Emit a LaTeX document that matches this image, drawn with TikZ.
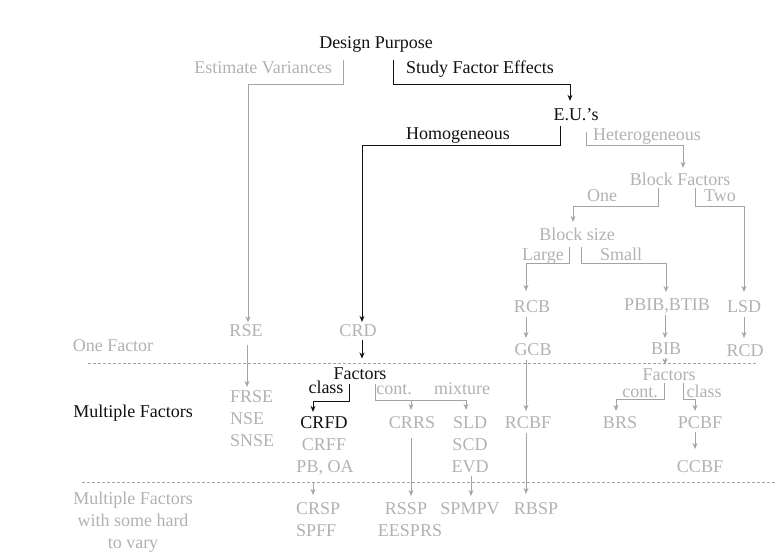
\documentclass[tikz,border=0pt]{standalone}
\usepackage{fontspec}
\setmainfont{Liberation Serif}
\usetikzlibrary{arrows.meta}
\definecolor{gtext}{HTML}{B2B2B2}
\definecolor{gline}{HTML}{A4A4A4}
\definecolor{btext}{HTML}{111111}
\begin{document}
\begin{tikzpicture}[x=1pt,y=-1pt,
  every node/.style={inner sep=0pt,font=\fontsize{18}{22}\selectfont},
  bt/.style={text=btext,anchor=base},
  gt/.style={text=gtext,anchor=base},
  bline/.style={draw=btext,line width=0.9pt},
  gln/.style={draw=gline,line width=0.8pt},
  btip/.style={bline,-{Stealth[length=6pt,width=5pt]}},
  gtip/.style={gln,-{Stealth[length=6pt,width=5pt]}},
  dashline/.style={gln,dash pattern=on 3pt off 2pt}]
\fill[white] (0,0) rectangle (782,555);
\useasboundingbox (0,0) rectangle (782,555);
% nodes
\node[bt] (DP) at (376,48) {Design Purpose};
\node[gt] (EV) at (263,73) {Estimate Variances};
\node[bt] (SFE) at (480,73) {Study Factor Effects};
\node[bt] (EU) at (576,120) {E.U.'s};
\node[bt] (HOM) at (458,139) {Homogeneous};
\node[gt] (HET) at (647,140) {Heterogeneous};
\node[gt] (BF) at (680,185) {Block Factors};
\node[gt] (ONE) at (602,201) {One};
\node[gt] (TWO) at (720,201) {Two};
\node[gt] (BS) at (577,240) {Block size};
\node[gt] (LG) at (543,260) {Large};
\node[gt] (SM) at (621,260) {Small};
\node[gt] (RCB) at (532,312) {RCB};
\node[gt] (PBIB) at (667,310) {PBIB,BTIB};
\node[gt] (LSD) at (744,312) {LSD};
\node[gt] (GCB) at (533,355) {GCB};
\node[gt] (BIB) at (666,354) {BIB};
\node[gt] (RCD) at (745,356) {RCD};
\node[gt] (RSE) at (246,336) {RSE};
\node[gt] (CRD) at (358,336) {CRD};
\node[gt] (OF) at (113,351) {One Factor};
\node[bt] (MF) at (133,417) {Multiple Factors};
\node[bt] (FAC1) at (360,379) {Factors};
\node[bt] (CLS1) at (326,393) {class};
\node[gt] (CONT1) at (394,394) {cont.};
\node[gt] (MIX) at (462,394) {mixture};
\node[gt] (FAC2) at (669,380) {Factors};
\node[gt] (CONT2) at (640,397) {cont.};
\node[gt] (CLS2) at (704,397) {class};
\node[gt,anchor=base west] (FRSE) at (230,402) {FRSE};
\node[gt,anchor=base west] (NSE) at (230,424) {NSE};
\node[gt,anchor=base west] (SNSE) at (230,446) {SNSE};
\node[bt] (CRFD) at (324,428) {CRFD};
\node[gt] (CRFF) at (324,450) {CRFF};
\node[gt] (PBOA) at (325,472) {PB, OA};
\node[gt] (CRRS) at (412,428) {CRRS};
\node[gt] (SLD) at (470,428) {SLD};
\node[gt] (SCD) at (470,450) {SCD};
\node[gt] (EVD) at (470,472) {EVD};
\node[gt] (RCBF) at (528,428) {RCBF};
\node[gt] (BRS) at (620,428) {BRS};
\node[gt] (PCBF) at (700,428) {PCBF};
\node[gt] (CCBF) at (700,472) {CCBF};
\node[gt] (MFH1) at (133,504) {Multiple Factors};
\node[gt] (MFH2) at (133,526) {with some hard};
\node[gt] (MFH3) at (133,548) {to vary};
\node[gt,anchor=base west] (CRSP) at (296,514) {CRSP};
\node[gt,anchor=base west] (SPFF) at (296,536) {SPFF};
\node[gt] (RSSP) at (406,514) {RSSP};
\node[gt] (EES) at (410,536) {EESPRS};
\node[gt] (SPMPV) at (470,514) {SPMPV};
\node[gt] (RBSP) at (536,514) {RBSP};
% dashed separators
\coordinate (d1a) at (88,363); \coordinate (d1b) at (757,363);
\coordinate (d2a) at (82,482); \coordinate (d2b) at (776,482);
\draw[dashline] (d1a) -- (d1b);
\draw[dashline] (d2a) -- (d2b);
% connectors
\draw[gtip,shorten >=1.5pt] (343,60) |- (248,84) -- (248,0 |- RSE.north);
\draw[btip,shorten >=7pt] (393,60) |- (570,84) -- (570,0 |- EU.north);
\draw[btip,shorten >=2pt] (560,126) |- (362,145) -- (362,0 |- CRD.north);
\draw[gtip,shorten >=4.5pt] (586,132) |- (683,145) -- (683,0 |- BF.north);
\draw[gtip,shorten >=5.5pt] (658,188) |- (573,206) -- (573,0 |- BS.north);
\draw[gtip,shorten >=8pt] (695,188) |- (744,206) -- (744,0 |- LSD.north);
\draw[gtip,shorten >=9pt] (569,247) |- (526,263) -- (526,0 |- RCB.north);
\draw[gtip,shorten >=6pt] (581,247) |- (666,263) -- (666,0 |- PBIB.north);
\draw[gtip,shorten <=5pt,shorten >=5pt] (526,0 |- RCB.south) -- (526,0 |- GCB.north);
\draw[gtip,shorten <=5pt,shorten >=5pt] (526,0 |- GCB.south) -- (526,0 |- RCBF.north);
\draw[gtip,shorten <=5pt,shorten >=8pt] (526,0 |- RCBF.south) -- (526,0 |- RBSP.north);
\draw[gtip,shorten <=2pt,shorten >=4pt] (665,0 |- PBIB.south) -- (665,0 |- BIB.north);
\draw[gtip,shorten <=4pt,shorten >=3.5pt] (665,0 |- BIB.south) -- (665,0 |- FAC2.north);
\draw[gtip,shorten <=5pt,shorten >=6pt] (744,0 |- LSD.south) -- (744,0 |- RCD.north);
\draw[gtip,shorten <=9pt,shorten >=3pt] (247,0 |- RSE.south) -- (247,0 |- FRSE.north);
\draw[btip,shorten <=4pt,shorten >=8.5pt] (362,0 |- CRD.south) -- (362,0 |- FAC1.north);
\draw[btip,shorten >=4pt] (349,384) |- (313,401) -- (313,0 |- CRFD.north);
\draw[gln] (375,384) |- (466,400);
\draw[gtip,shorten >=6pt] (466,400) -- (466,0 |- SLD.north);
\draw[gtip,shorten >=6pt] (411,400) -- (411,0 |- CRRS.north);
\draw[gtip,shorten >=5pt] (664,383) |- (616,399) -- (616,0 |- BRS.north);
\draw[gtip,shorten >=5pt] (683,383) |- (695,399) -- (695,0 |- PCBF.north);
\draw[gtip,shorten <=4pt,shorten >=11pt] (695,0 |- PCBF.south) -- (695,0 |- CCBF.north);
\draw[gtip,shorten <=10pt,shorten >=6pt] (411,0 |- CRRS.south) -- (411,0 |- RSSP.north);
\draw[gtip,shorten <=4pt,shorten >=6pt] (471,0 |- EVD.south) -- (471,0 |- SPMPV.north);
\draw[gtip,shorten <=8pt,shorten >=7pt] (313,0 |- PBOA.south) -- (313,0 |- CRSP.north);
\end{tikzpicture}
\end{document}
